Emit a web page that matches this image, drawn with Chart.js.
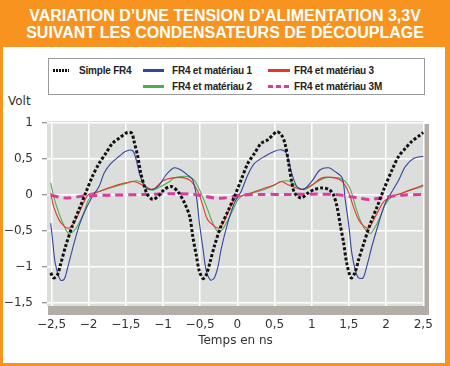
<!DOCTYPE html>
<html><head><meta charset="utf-8">
<script src="https://cdn.jsdelivr.net/npm/chart.js@4.4.1/dist/chart.umd.min.js"></script>
<style>
html,body{margin:0;padding:0;}
body{width:450px;height:366px;background:#F7931E;position:relative;overflow:hidden;}
#title{position:absolute;left:0;top:7px;width:450px;text-align:center;color:#fff;font:bold 16px "Liberation Sans",Arial,sans-serif;line-height:17px;}
#panel{position:absolute;left:3px;top:47px;width:442px;height:316px;background:#fff;}
#legend{position:absolute;left:48px;top:58px;width:375px;height:35px;border:1px solid #9a9a9a;background:#fff;}
.item{position:absolute;height:14px;}
.item span{position:absolute;top:0;font:bold 10px "Liberation Sans",Arial,sans-serif;letter-spacing:-0.2px;color:#222;white-space:nowrap;line-height:14px;}
.sw{position:absolute;top:5px;height:3px;}
#volt{position:absolute;left:8px;top:94px;font:12px "DejaVu Sans",sans-serif;color:#333;}
canvas{position:absolute;left:0;top:0;}
</style></head>
<body>
<div id="title">VARIATION D’UNE TENSION D’ALIMENTATION 3,3V<br>SUIVANT LES CONDENSATEURS DE DÉCOUPLAGE</div>
<div id="panel"></div>
<div id="legend"></div>
<div id="volt">Volt</div>
<canvas id="c" width="450" height="366"></canvas>
<script>
// ---- data (time in ns, value in volts) ----
const xTicks = [-2.5,-2,-1.5,-1,-0.5,0,0.5,1,1.5,2,2.5];
const xTickLabels = ['−2,5','−2','−1,5','−1','−0,5','0','0,5','1','1,5','2','2,5'];
const yTicks = [-1.5,-1,-0.5,0,0.5,1];
const yTickLabels = ['−1,5','−1','−0,5','0','0,5','1'];
const seriesNames = ['Simple FR4','FR4 et matériau 1','FR4 et matériau 2','FR4 et matériau 3','FR4 et matériau 3M'];

const simpleFR4 = [[-2.51,-1.09],[-2.47,-1.16],[-2.42,-1.12],[-2.38,-0.98],[-2.31,-0.72],[-2.22,-0.44],[-2.13,-0.21],[-2.04,0.02],[-1.95,0.25],[-1.86,0.43],[-1.77,0.57],[-1.68,0.71],[-1.59,0.78],[-1.48,0.86],[-1.42,0.85],[-1.39,0.74],[-1.34,0.53],[-1.30,0.30],[-1.25,0.11],[-1.21,0.00],[-1.14,-0.07],[-1.07,-0.03],[-0.98,0.07],[-0.89,0.11],[-0.80,0.04],[-0.71,-0.12],[-0.64,-0.31],[-0.60,-0.58],[-0.55,-0.86],[-0.51,-1.07],[-0.46,-1.17],[-0.42,-1.12],[-0.37,-0.95],[-0.31,-0.72],[-0.22,-0.44],[-0.13,-0.24],[-0.04,-0.03],[0.05,0.20],[0.14,0.43],[0.23,0.57],[0.32,0.71],[0.41,0.76],[0.53,0.87],[0.59,0.83],[0.64,0.71],[0.69,0.43],[0.73,0.18],[0.77,0.02],[0.86,-0.05],[0.95,0.02],[1.04,0.07],[1.14,0.09],[1.23,0.07],[1.29,0.00],[1.34,-0.17],[1.38,-0.40],[1.43,-0.68],[1.47,-0.95],[1.53,-1.16],[1.58,-1.09],[1.63,-0.91],[1.70,-0.68],[1.79,-0.40],[1.88,-0.17],[1.97,0.07],[2.08,0.34],[2.17,0.53],[2.26,0.64],[2.35,0.74],[2.44,0.81],[2.50,0.86]];

const materiau1 = [[-2.51,-0.40],[-2.48,-0.68],[-2.45,-0.95],[-2.38,-1.19],[-2.33,-1.18],[-2.29,-1.05],[-2.22,-0.77],[-2.13,-0.44],[-2.04,-0.21],[-1.95,-0.03],[-1.86,0.11],[-1.79,0.30],[-1.70,0.43],[-1.59,0.53],[-1.50,0.60],[-1.41,0.61],[-1.36,0.48],[-1.32,0.30],[-1.27,0.16],[-1.23,0.09],[-1.14,0.07],[-1.05,0.13],[-0.96,0.27],[-0.85,0.37],[-0.76,0.34],[-0.67,0.27],[-0.60,0.20],[-0.55,-0.03],[-0.51,-0.40],[-0.46,-0.77],[-0.42,-1.05],[-0.36,-1.19],[-0.31,-1.16],[-0.26,-1.00],[-0.22,-0.77],[-0.13,-0.40],[-0.04,-0.12],[0.05,0.04],[0.14,0.27],[0.23,0.43],[0.37,0.53],[0.50,0.60],[0.59,0.62],[0.66,0.57],[0.73,0.30],[0.80,0.11],[0.89,0.07],[1.00,0.18],[1.11,0.34],[1.23,0.37],[1.31,0.32],[1.41,0.23],[1.45,-0.07],[1.50,-0.44],[1.54,-0.82],[1.59,-1.07],[1.63,-1.16],[1.69,-1.16],[1.74,-1.00],[1.81,-0.72],[1.90,-0.40],[1.99,-0.12],[2.08,0.04],[2.17,0.20],[2.26,0.39],[2.37,0.50],[2.50,0.53]];

const materiau2 = [[-2.51,0.16],[-2.47,-0.03],[-2.40,-0.26],[-2.33,-0.44],[-2.27,-0.54],[-2.20,-0.51],[-2.13,-0.40],[-2.06,-0.24],[-2.00,-0.07],[-1.91,0.02],[-1.77,0.07],[-1.64,0.11],[-1.48,0.16],[-1.36,0.19],[-1.27,0.16],[-1.21,0.09],[-1.14,0.06],[-1.03,0.11],[-0.91,0.18],[-0.85,0.23],[-0.67,0.25],[-0.58,0.20],[-0.49,0.02],[-0.40,-0.21],[-0.33,-0.40],[-0.27,-0.51],[-0.22,-0.51],[-0.15,-0.40],[-0.08,-0.26],[0.01,-0.07],[0.10,0.00],[0.28,0.04],[0.46,0.11],[0.59,0.18],[0.71,0.18],[0.82,0.09],[0.91,0.07],[1.05,0.16],[1.18,0.23],[1.36,0.23],[1.45,0.18],[1.52,0.07],[1.59,-0.17],[1.65,-0.35],[1.72,-0.49],[1.79,-0.54],[1.86,-0.44],[1.92,-0.31],[1.99,-0.14],[2.08,-0.03],[2.22,0.02],[2.35,0.07],[2.50,0.11]];

const materiau3 = [[-2.51,0.02],[-2.47,-0.17],[-2.40,-0.35],[-2.33,-0.44],[-2.27,-0.47],[-2.20,-0.40],[-2.13,-0.26],[-2.06,-0.10],[-2.00,0.00],[-1.86,0.04],[-1.68,0.11],[-1.50,0.16],[-1.39,0.18],[-1.27,0.13],[-1.14,0.07],[-1.00,0.19],[-0.87,0.23],[-0.71,0.23],[-0.62,0.18],[-0.53,0.04],[-0.46,-0.17],[-0.40,-0.35],[-0.31,-0.44],[-0.25,-0.47],[-0.19,-0.40],[-0.13,-0.26],[-0.04,-0.07],[0.05,-0.02],[0.19,0.02],[0.37,0.09],[0.50,0.13],[0.59,0.18],[0.69,0.13],[0.86,0.07],[1.00,0.13],[1.14,0.23],[1.31,0.23],[1.41,0.18],[1.50,0.02],[1.56,-0.17],[1.63,-0.35],[1.70,-0.44],[1.76,-0.47],[1.81,-0.40],[1.88,-0.26],[1.97,-0.10],[2.08,-0.03],[2.22,0.02],[2.35,0.07],[2.50,0.13]];

const materiau3M = [[-2.51,-0.01],[-2.31,-0.05],[-2.04,-0.02],[-1.68,-0.01],[-1.21,0.00],[-0.87,0.01],[-0.58,0.00],[-0.31,-0.05],[-0.18,-0.05],[0.05,-0.01],[0.32,0.00],[0.69,0.00],[1.30,0.00],[1.63,-0.05],[1.77,-0.07],[1.97,-0.04],[2.22,-0.01],[2.50,0.00]];

// ---- styles ----
const colors = {black:'#111111', blue:'#3345a0', green:'#4cae54', red:'#e8362c', pink:'#dc3aa0'};
const toXY = arr => arr.map(p => ({x:p[0], y:p[1]}));

// HTML legend (laid out like the original: 3 columns)
const legendItems = [
  {name:seriesNames[0], left:4, top:5, sw:'repeating-linear-gradient(90deg,#111 0 2px,transparent 2px 3px)', w:16, tx:26},
  {name:seriesNames[1], left:94, top:5, sw:colors.blue, w:21, tx:29},
  {name:seriesNames[2], left:94, top:21, sw:colors.green, w:21, tx:29},
  {name:seriesNames[3], left:219, top:5, sw:colors.red, w:22, tx:26},
  {name:seriesNames[4], left:219, top:21, sw:'repeating-linear-gradient(90deg,'+colors.pink+' 0 5px,transparent 5px 8px)', w:22, tx:26}
];
const lg = document.getElementById('legend');
legendItems.forEach(it => {
  const d = document.createElement('div'); d.className='item';
  d.style.left = it.left+'px'; d.style.top = it.top+'px';
  const s = document.createElement('div'); s.className='sw'; s.style.width = it.w+'px'; s.style.background = it.sw; s.style.left='0px';
  const t = document.createElement('span'); t.textContent = it.name; t.style.left = it.tx+'px';
  d.appendChild(s); d.appendChild(t); lg.appendChild(d);
});

const plotBg = {
  id:'plotBg',
  beforeDraw(chart){
    const {ctx, chartArea:a} = chart;
    ctx.save();
    ctx.fillStyle = '#b4ada7';
    ctx.fillRect(a.left+1, a.top+3, a.right-a.left+4, a.bottom-a.top+3+3);
    ctx.fillStyle = '#dcdedc';
    ctx.fillRect(a.left, a.top, a.right-a.left, a.bottom-a.top);
    ctx.restore();
  }
};

const tickFont = {family:'"DejaVu Sans", sans-serif', size:12};

new Chart(document.getElementById('c'), {
  type:'line',
  data:{
    datasets:[
      {label:seriesNames[0], data:toXY(simpleFR4), borderColor:colors.black, borderWidth:3, borderDash:[3,2], borderCapStyle:'butt', order:0},
      {label:seriesNames[4], data:toXY(materiau3M), borderColor:colors.pink, borderWidth:3, borderDash:[8,5], order:1},
      {label:seriesNames[1], data:toXY(materiau1), borderColor:colors.blue, borderWidth:1.1, order:2},
      {label:seriesNames[3], data:toXY(materiau3), borderColor:colors.red, borderWidth:1.1, order:3},
      {label:seriesNames[2], data:toXY(materiau2), borderColor:colors.green, borderWidth:1.1, order:4}
    ]
  },
  options:{
    responsive:false,
    animation:false,
    devicePixelRatio:1,
    layout:{padding:{left:0, right:26, top:121, bottom:14}},
    elements:{point:{radius:0}, line:{tension:0.3, fill:false}},
    plugins:{legend:{display:false}, tooltip:{enabled:false}},
    scales:{
      x:{
        type:'linear', min:-2.56, max:2.51,
        afterBuildTicks(s){ s.ticks = xTicks.map(v => ({value:v})); },
        afterFit(s){ s.height = 46; },
        border:{display:false},
        grid:{color:'#ffffff', lineWidth:1.5, drawTicks:false},
        ticks:{padding:12, color:'#333', font:tickFont, maxRotation:0, autoSkip:false,
          callback:(v) => { const i = xTicks.indexOf(v); return i >= 0 ? xTickLabels[i] : ''; }},
        title:{display:true, text:'Temps en ns', color:'#333', font:tickFont, padding:{top:0, bottom:4}}
      },
      y:{
        type:'linear', min:-1.55, max:1.02,
        afterBuildTicks(s){ s.ticks = yTicks.map(v => ({value:v})); },
        afterFit(s){ s.width = 47; },
        border:{display:false},
        grid:{color:'#ffffff', lineWidth:1.5, tickColor:'#777', tickWidth:1, tickLength:9, tickBorderDash:[5,100], tickBorderDashOffset:101},
        ticks:{padding:5, color:'#333', font:tickFont, autoSkip:false,
          callback:(v) => { const i = yTicks.indexOf(v); return i >= 0 ? yTickLabels[i] : ''; }}
      }
    }
  },
  plugins:[plotBg]
});
</script>
</body></html>
